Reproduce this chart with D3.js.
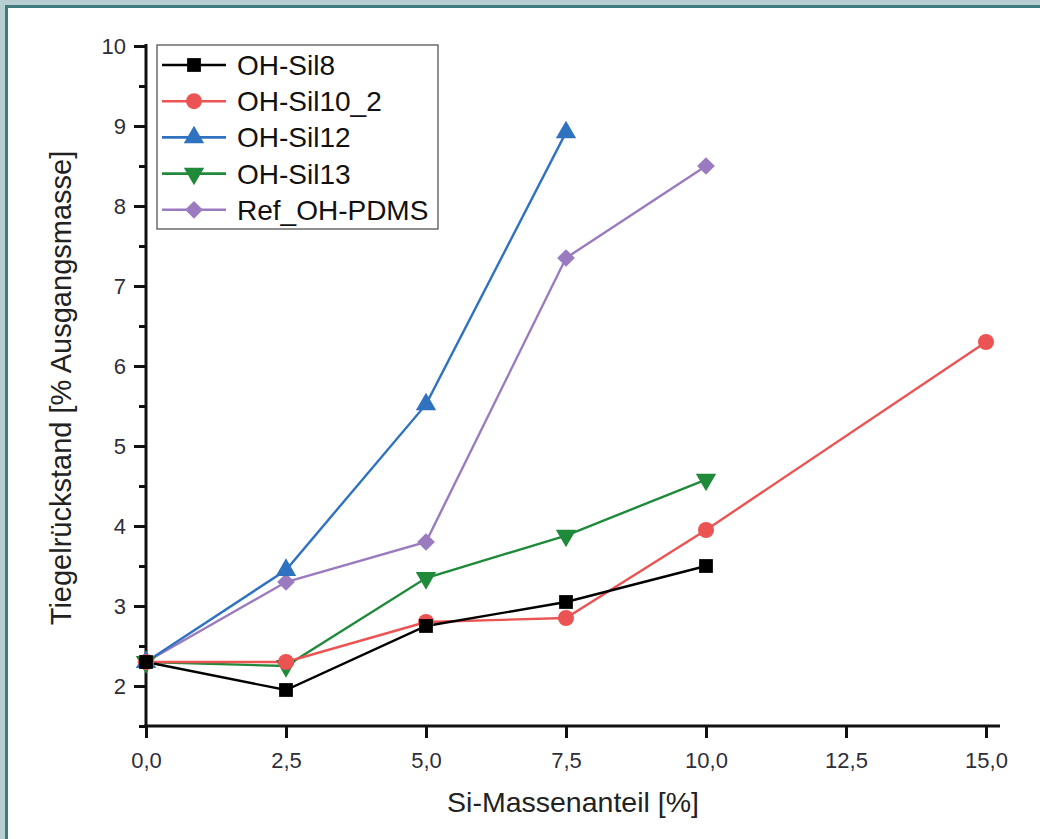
<!DOCTYPE html>
<html><head><meta charset="utf-8">
<script src="https://cdn.jsdelivr.net/npm/d3@7"></script>
<style>
html,body{margin:0;padding:0;background:#fff;}
svg{display:block;font-family:"Liberation Sans",Arial,sans-serif;}
</style></head>
<body>
<svg id="chart" width="1040" height="839"></svg>
<script>
const xValues = [0, 2.5, 5, 7.5, 10, 15];
const seriesNames = ["OH-Sil8", "OH-Sil10_2", "OH-Sil12", "OH-Sil13", "Ref_OH-PDMS"];
const sil8 = [2.3, 1.95, 2.75, 3.05, 3.5];
const sil10_2 = [2.3, 2.3, 2.8, 2.85, 3.95, 6.3];
const sil12 = [2.3, 3.45, 5.52, 8.92];
const sil13 = [2.3, 2.25, 3.35, 3.88, 4.58];
const refPDMS = [2.3, 3.3, 3.8, 7.35, 8.5];
const xTicks = [0, 2.5, 5, 7.5, 10, 12.5, 15];
const xTickLabels = ["0,0", "2,5", "5,0", "7,5", "10,0", "12,5", "15,0"];
const yTicks = [2, 3, 4, 5, 6, 7, 8, 9, 10];
const yMinorTicks = [1.5, 2.5, 3.5, 4.5, 5.5, 6.5, 7.5, 8.5, 9.5];
const colors = ["#000000", "#ec5353", "#2f72c0", "#1f8a3a", "#9b7bc0"];
const symbols = ["square", "circle", "triangle", "triangleDown", "diamond"];
const allSeries = [sil8, sil10_2, sil12, sil13, refPDMS];

const FONT = "'Liberation Sans', Arial, sans-serif";
const svg = d3.select("#chart");
// frame
svg.append("rect").attr("x",0).attr("y",0).attr("width",1040).attr("height",839).attr("fill","#b6ced1");
svg.append("rect").attr("x",5).attr("y",5).attr("width",1035).attr("height",834).attr("fill","#3f7b7d");
svg.append("rect").attr("x",8).attr("y",8).attr("width",1032).attr("height",831).attr("fill","#ffffff");

const x = d3.scaleLinear().domain([0, 15.25]).range([146, 1000]);
const y = d3.scaleLinear().domain([1.5, 10]).range([726, 46]);

// axes
const xAxis = d3.axisBottom(x).tickValues(xTicks).tickSize(12).tickSizeOuter(0)
  .tickFormat((d,i)=>xTickLabels[i]);
const gx = svg.append("g").attr("transform","translate(0,726)").call(xAxis);
gx.select(".domain").attr("stroke","#111").attr("stroke-width",3).attr("d","M144.5,0H1000");
gx.selectAll(".tick line").attr("stroke","#111").attr("stroke-width",3);
gx.selectAll(".tick text").attr("fill","#2e2e3a").attr("y",26).attr("dy","0.71em")
  .style("font-size","22px").style("font-family",FONT);

const yAxis = d3.axisLeft(y).tickValues(yTicks).tickSize(12).tickSizeOuter(0).tickFormat(d3.format("d"));
const gy = svg.append("g").attr("transform","translate(146,0)").call(yAxis);
gy.select(".domain").attr("stroke","#111").attr("stroke-width",3).attr("d","M0,44V727.5");
gy.selectAll(".tick line").attr("stroke","#111").attr("stroke-width",3);
gy.selectAll(".tick text").attr("fill","#2e2e3a").attr("x",-20)
  .style("font-size","22px").style("font-family",FONT);
const yMinor = d3.axisLeft(y).tickValues(yMinorTicks).tickSize(7).tickFormat("");
const gym = svg.append("g").attr("transform","translate(146,0)").call(yMinor);
gym.select(".domain").remove();
gym.selectAll(".tick line").attr("stroke","#111").attr("stroke-width",3);

// titles
svg.append("text").attr("x",573).attr("y",812).attr("text-anchor","middle")
  .attr("font-size",28.5).attr("fill","#222").text("Si-Massenanteil [%]");
svg.append("text").attr("transform","translate(71,388) rotate(-90)").attr("text-anchor","middle")
  .attr("font-size",29).attr("fill","#222").text("Tiegelrückstand [% Ausgangsmasse]");

function sym(k, size){
  if(k==="square") return d3.symbol(d3.symbolSquare, size)();
  if(k==="circle") return d3.symbol(d3.symbolCircle, size)();
  if(k==="triangle") return d3.symbol(d3.symbolTriangle, size)();
  if(k==="triangleDown") return d3.symbol(d3.symbolTriangle, size)();
  if(k==="diamond") return d3.symbol(d3.symbolSquare, size*0.75)();
}
function rot(k){ return k==="triangleDown" ? 180 : (k==="diamond" ? 45 : 0); }
const sizes = {square:190, circle:200, triangle:180, triangleDown:180, diamond:210};

const line = d3.line().x((d,i)=>x(xValues[i])).y(d=>y(d));
const order = [4,3,2,1,0];
order.forEach(s=>{
  svg.append("path").attr("d", line(allSeries[s])).attr("fill","none")
    .attr("stroke", colors[s]).attr("stroke-width",2.4);
});
order.forEach(s=>{
  svg.append("g").selectAll("path").data(allSeries[s]).join("path")
    .attr("d", sym(symbols[s], sizes[symbols[s]]))
    .attr("transform",(d,i)=>`translate(${x(xValues[i])},${y(d)}) rotate(${rot(symbols[s])})`)
    .attr("fill", colors[s]);
});

// legend
const lg = svg.append("g");
lg.append("rect").attr("x",157).attr("y",45).attr("width",281).attr("height",184)
  .attr("fill","#fff").attr("stroke","#555").attr("stroke-width",1.3);
seriesNames.forEach((n,i)=>{
  const cy = 65 + i*36.2;
  lg.append("line").attr("x1",162).attr("x2",226).attr("y1",cy).attr("y2",cy)
    .attr("stroke",colors[i]).attr("stroke-width",2.6);
  lg.append("path").attr("d", sym(symbols[i], sizes[symbols[i]]))
    .attr("transform",`translate(194,${cy}) rotate(${rot(symbols[i])})`).attr("fill",colors[i]);
  lg.append("text").attr("x",237).attr("y",cy+10).attr("font-size",28).attr("fill","#111").text(n);
});
</script>
</body></html>
